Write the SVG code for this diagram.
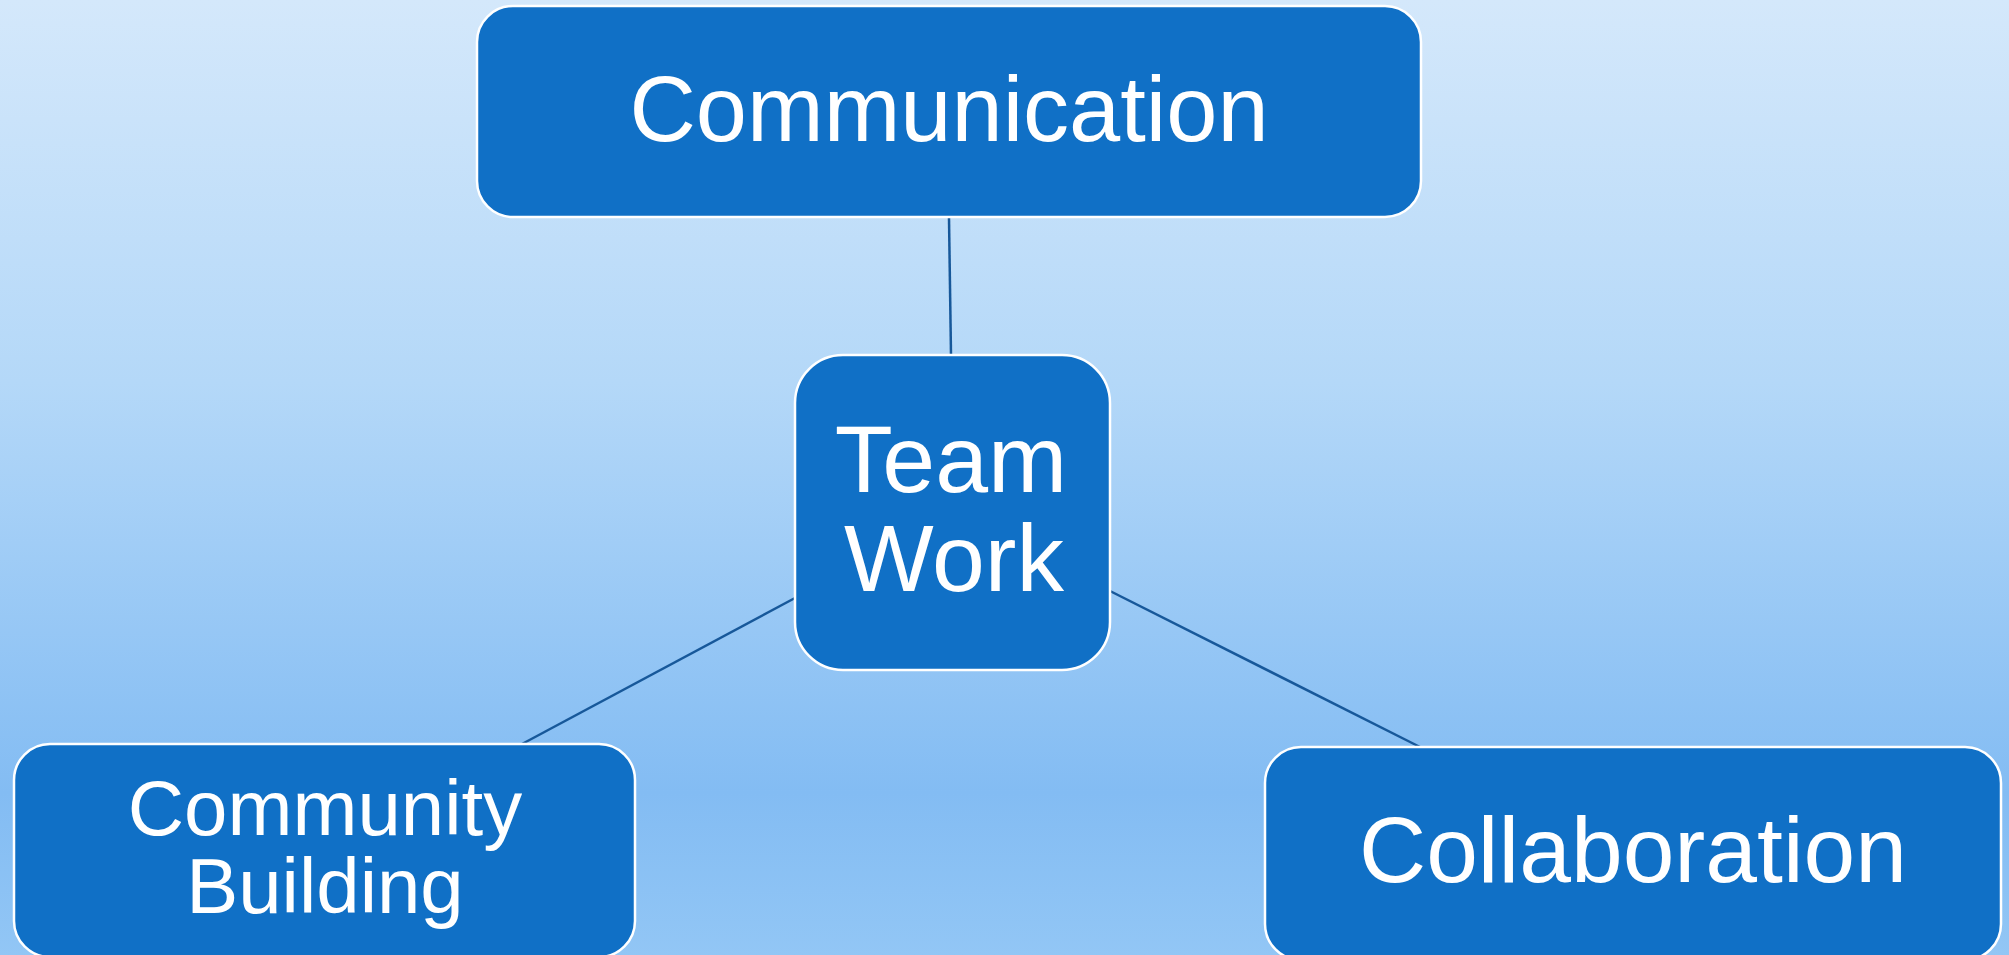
<svg xmlns="http://www.w3.org/2000/svg" width="2009" height="955" viewBox="0 0 2009 955">
  <defs>
    <linearGradient id="bg" x1="0" y1="0" x2="0" y2="1">
      <stop offset="0" stop-color="#d4e8fb"/>
      <stop offset="0.4" stop-color="#b4d8f8"/>
      <stop offset="0.83" stop-color="#83bcf3"/>
      <stop offset="1" stop-color="#92c6f5"/>
    </linearGradient>
  </defs>
  <style>
    .box { fill: #1070c6; stroke: #ffffff; stroke-width: 2.5; }
    .lbl { fill: #ffffff; font-family: "Liberation Sans", Arial, sans-serif; text-anchor: middle; }
    .conn { stroke: #17589a; stroke-width: 2.5; fill: none; }
  </style>
  <rect x="0" y="0" width="2009" height="955" fill="url(#bg)"/>
  <g id="connectors">
    <line class="conn" x1="949" y1="218" x2="951" y2="355"/>
    <line class="conn" x1="795" y1="598" x2="522" y2="744"/>
    <line class="conn" x1="1110" y1="591" x2="1420" y2="747"/>
  </g>
  <g id="node-communication">
    <rect class="box" x="477" y="6" width="944" height="211" rx="36" ry="36"/>
    <text class="lbl" x="949" y="141" font-size="92">Communication</text>
  </g>
  <g id="node-teamwork">
    <rect class="box" x="795" y="355" width="315" height="315" rx="48" ry="48"/>
    <text class="lbl" font-size="95"><tspan x="951" y="492">Team</tspan><tspan x="954" y="591">Work</tspan></text>
  </g>
  <g id="node-community-building">
    <rect class="box" x="14" y="744" width="621" height="213" rx="36" ry="36"/>
    <text class="lbl" font-size="78"><tspan x="325" y="835">Community</tspan><tspan x="325" y="913">Building</tspan></text>
  </g>
  <g id="node-collaboration">
    <rect class="box" x="1265" y="747" width="736" height="213" rx="36" ry="36"/>
    <text class="lbl" x="1633" y="882" font-size="93">Collaboration</text>
  </g>
</svg>
